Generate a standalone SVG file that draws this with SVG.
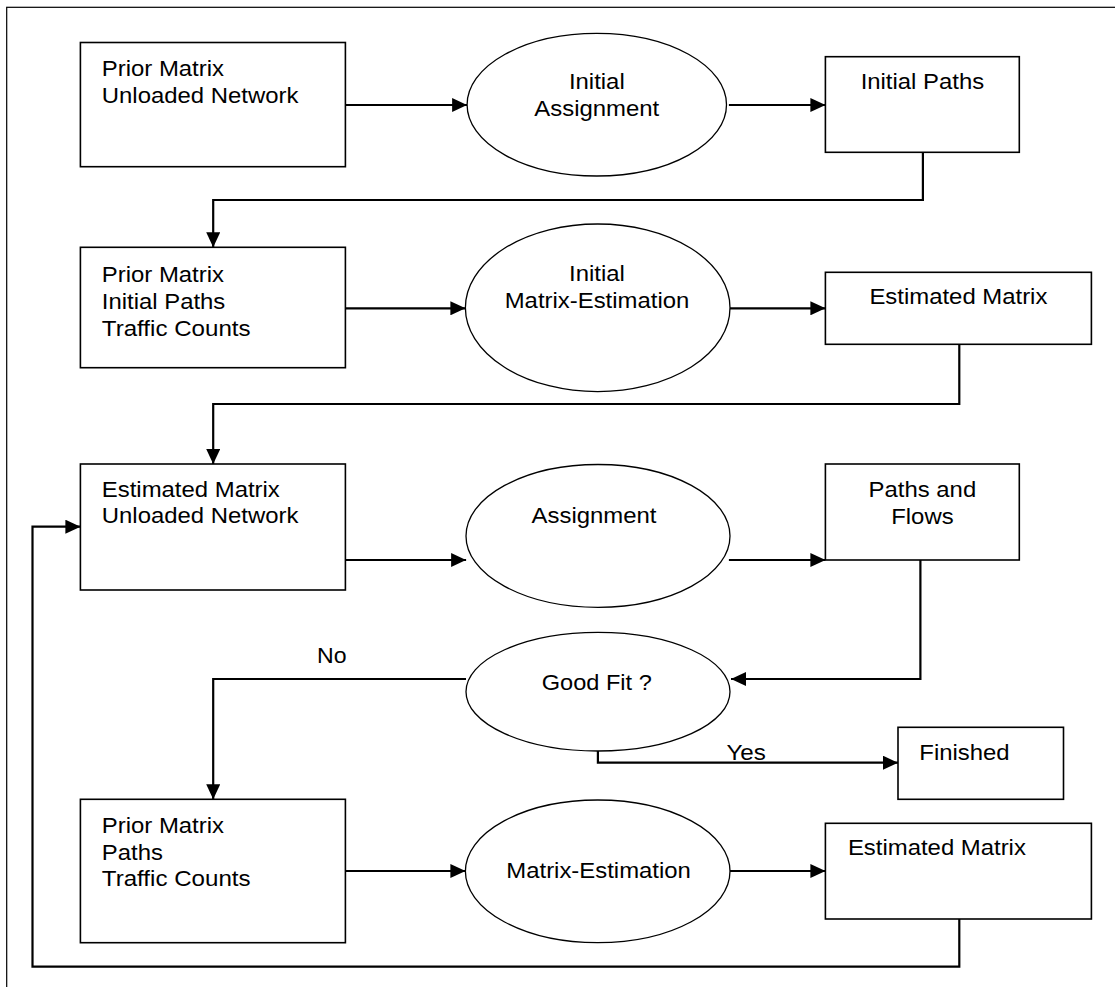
<svg xmlns="http://www.w3.org/2000/svg" width="1115" height="987" viewBox="0 0 1115 987">
<style>
.frame{fill:none;stroke:#000;stroke-width:1.2}
.box{fill:#fff;stroke:#000;stroke-width:1.6}
.ell{fill:#fff;stroke:#000;stroke-width:1.3}
.conn{fill:none;stroke:#000;stroke-width:2.2}
.arr{marker-end:url(#ah)}
text{font-family:"Liberation Sans",Arial,sans-serif;font-size:22px;fill:#000}
.c{text-anchor:middle}
</style>
<defs>
<marker id="ah" markerUnits="userSpaceOnUse" markerWidth="15" markerHeight="14" refX="15" refY="7" orient="auto">
<path d="M0,0 L15,7 L0,14 Z" fill="#000"/>
</marker>
</defs>
<rect class="frame" x="6.7" y="7.3" width="1130" height="1000"/>
<g id="connectors">
<path class="conn arr" d="M345.4 105 H467.1"/>
<path class="conn arr" d="M728.9 105 H825.4"/>
<path class="conn arr" d="M922.9 152.3 V200 H213.2 V247.3"/>
<path class="conn arr" d="M345.4 308.3 H465.4"/>
<path class="conn arr" d="M730 308.3 H825.4"/>
<path class="conn arr" d="M959.3 344.3 V404 H213.2 V464"/>
<path class="conn arr" d="M345.4 560 H466.1"/>
<path class="conn arr" d="M728.9 560 H825.4"/>
<path class="conn arr" d="M920.4 560 V679 H731"/>
<path class="conn arr" d="M466 679 H213.2 V799.3"/>
<path class="conn arr" d="M597.9 751 V762.7 H898"/>
<path class="conn arr" d="M345.4 871 H465.4"/>
<path class="conn arr" d="M730 871 H825.4"/>
<path class="conn arr" d="M959.3 919 V966.7 H32.5 V526.7 H80.4"/>
<text x="317.1" y="663.3" textLength="29.5" lengthAdjust="spacingAndGlyphs">No</text>
<text x="726.4" y="760" textLength="39.5" lengthAdjust="spacingAndGlyphs">Yes</text>
</g>
<g id="n1">
<rect class="box" x="80.4" y="42.5" width="265" height="124.2"/>
<text x="101.8" y="76" textLength="122.2" lengthAdjust="spacingAndGlyphs">Prior Matrix</text>
<text x="101.8" y="102.7" textLength="196.6" lengthAdjust="spacingAndGlyphs">Unloaded Network</text>
</g>
<g id="n2">
<ellipse class="ell" cx="596.8" cy="104.7" rx="129.7" ry="71.3"/>
<text class="c" x="596.8" y="89.3" textLength="55.8" lengthAdjust="spacingAndGlyphs">Initial</text>
<text class="c" x="596.8" y="116" textLength="124.9" lengthAdjust="spacingAndGlyphs">Assignment</text>
</g>
<g id="n3">
<rect class="box" x="825.4" y="56.7" width="193.9" height="95.6"/>
<text class="c" x="922.4" y="89.3" textLength="123.5" lengthAdjust="spacingAndGlyphs">Initial Paths</text>
</g>
<g id="n4">
<rect class="box" x="80.4" y="247.3" width="265" height="120.4"/>
<text x="101.8" y="281.7" textLength="122.2" lengthAdjust="spacingAndGlyphs">Prior Matrix</text>
<text x="101.8" y="309" textLength="123.5" lengthAdjust="spacingAndGlyphs">Initial Paths</text>
<text x="101.8" y="336" textLength="148.8" lengthAdjust="spacingAndGlyphs">Traffic Counts</text>
</g>
<g id="n5">
<ellipse class="ell" cx="597.7" cy="307.8" rx="132.3" ry="83.8"/>
<text class="c" x="597" y="280.7" textLength="55.8" lengthAdjust="spacingAndGlyphs">Initial</text>
<text class="c" x="597" y="308.3" textLength="184.6" lengthAdjust="spacingAndGlyphs">Matrix-Estimation</text>
</g>
<g id="n6">
<rect class="box" x="825.4" y="272.3" width="266" height="72"/>
<text class="c" x="958.4" y="304.3" textLength="178" lengthAdjust="spacingAndGlyphs">Estimated Matrix</text>
</g>
<g id="n7">
<rect class="box" x="80.4" y="464" width="265" height="126"/>
<text x="101.8" y="496.7" textLength="178" lengthAdjust="spacingAndGlyphs">Estimated Matrix</text>
<text x="101.8" y="523.3" textLength="196.6" lengthAdjust="spacingAndGlyphs">Unloaded Network</text>
</g>
<g id="n8">
<ellipse class="ell" cx="598" cy="535.9" rx="132" ry="71.4"/>
<text class="c" x="594" y="522.7" textLength="124.9" lengthAdjust="spacingAndGlyphs">Assignment</text>
</g>
<g id="n9">
<rect class="box" x="825.4" y="464" width="193.9" height="96"/>
<text class="c" x="922.4" y="496.7" textLength="107.6" lengthAdjust="spacingAndGlyphs">Paths and</text>
<text class="c" x="922.4" y="524" textLength="62.4" lengthAdjust="spacingAndGlyphs">Flows</text>
</g>
<g id="n10">
<ellipse class="ell" cx="598" cy="691.7" rx="132" ry="59.3"/>
<text class="c" x="596.8" y="690" textLength="110" lengthAdjust="spacingAndGlyphs">Good Fit ?</text>
</g>
<g id="n11">
<rect class="box" x="898" y="727.3" width="165.5" height="72"/>
<text x="919.3" y="760" textLength="90.3" lengthAdjust="spacingAndGlyphs">Finished</text>
</g>
<g id="n12">
<rect class="box" x="80.4" y="799.3" width="265" height="143.4"/>
<text x="101.8" y="832.7" textLength="122.2" lengthAdjust="spacingAndGlyphs">Prior Matrix</text>
<text x="101.8" y="859.7" textLength="61.1" lengthAdjust="spacingAndGlyphs">Paths</text>
<text x="101.8" y="886.3" textLength="148.8" lengthAdjust="spacingAndGlyphs">Traffic Counts</text>
</g>
<g id="n13">
<ellipse class="ell" cx="597.7" cy="871.3" rx="132.3" ry="71.3"/>
<text class="c" x="598.6" y="878.3" textLength="184.6" lengthAdjust="spacingAndGlyphs">Matrix-Estimation</text>
</g>
<g id="n14">
<rect class="box" x="825.4" y="823.3" width="266" height="95.7"/>
<text x="847.9" y="855" textLength="178" lengthAdjust="spacingAndGlyphs">Estimated Matrix</text>
</g>
</svg>
